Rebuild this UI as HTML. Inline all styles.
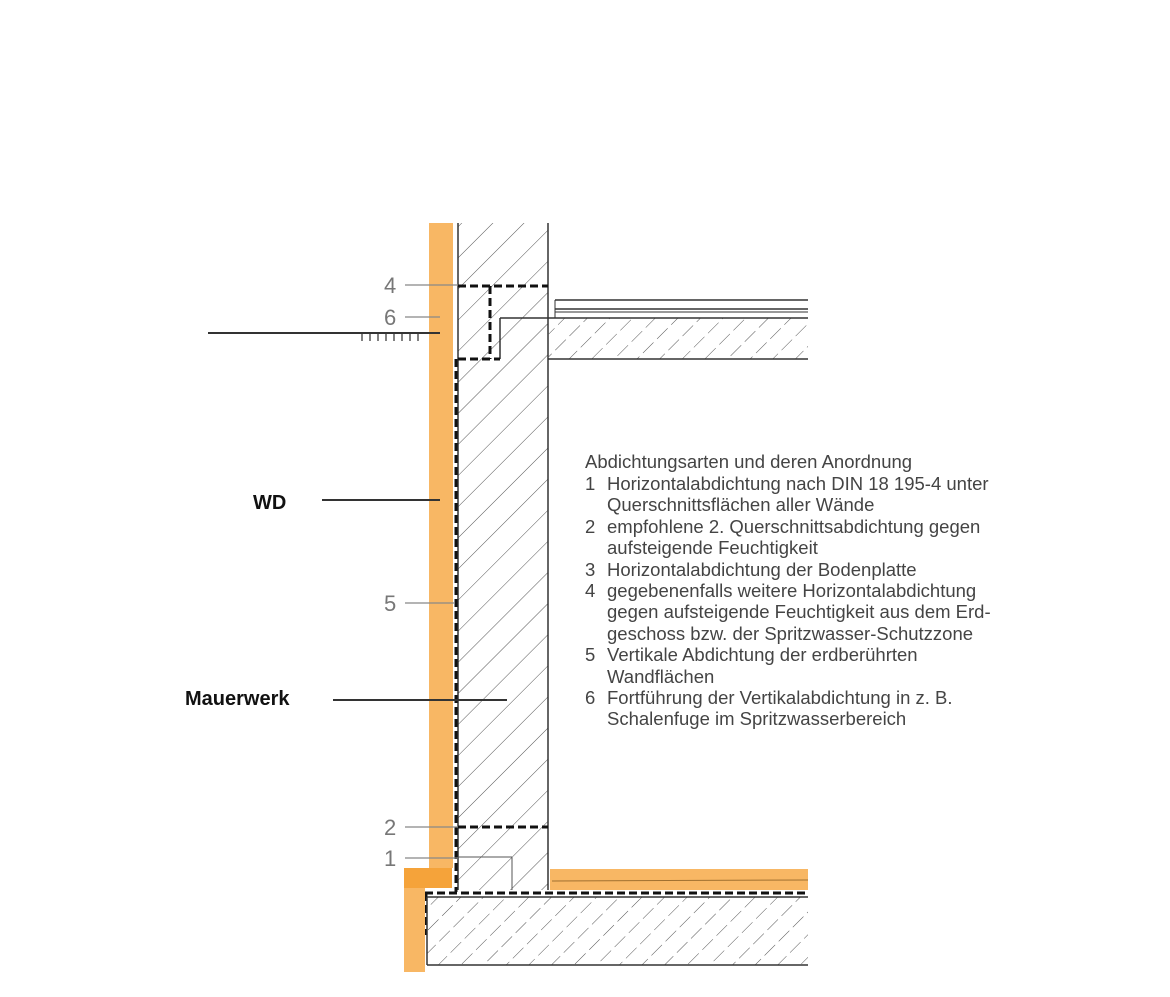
<!DOCTYPE html>
<html><head><meta charset="utf-8"><style>
html,body{margin:0;padding:0;background:#fff;}
svg{display:block;}
.lbl{font-family:"Liberation Sans",sans-serif;font-size:22px;fill:#777;}
.b{font-family:"Liberation Sans",sans-serif;font-size:20px;font-weight:bold;fill:#111;}
.t{font-family:"Liberation Sans",sans-serif;font-size:18.5px;fill:#444;}
</style></head><body>
<svg width="1170" height="997" viewBox="0 0 1170 997" xmlns="http://www.w3.org/2000/svg">
<defs>
<pattern id="h" patternUnits="userSpaceOnUse" width="22" height="22" patternTransform="rotate(45)">
<line x1="0" y1="0" x2="0" y2="22" stroke="#555" stroke-width="1"/>
</pattern>
<pattern id="hc" patternUnits="userSpaceOnUse" width="16" height="20" patternTransform="rotate(45)">
<line x1="0" y1="0" x2="0" y2="15" stroke="#555" stroke-width="1"/>
</pattern>
</defs>
<!-- wall -->
<rect x="458" y="223" width="90" height="667" fill="url(#h)"/>
<line x1="458" y1="223" x2="458" y2="890" stroke="#333" stroke-width="1.5"/>
<line x1="548" y1="223" x2="548" y2="890" stroke="#333" stroke-width="1.5"/>
<!-- ceiling slab -->
<rect x="548" y="318" width="260" height="41" fill="url(#hc)"/>
<line x1="500" y1="318" x2="808" y2="318" stroke="#333" stroke-width="1.5"/>
<line x1="548" y1="359" x2="808" y2="359" stroke="#333" stroke-width="1.5"/>
<line x1="500" y1="318" x2="500" y2="359" stroke="#333" stroke-width="1.5"/>
<line x1="555" y1="300" x2="808" y2="300" stroke="#333" stroke-width="1.5"/>
<line x1="555" y1="309" x2="808" y2="309" stroke="#333" stroke-width="1.5"/>
<line x1="555" y1="312" x2="808" y2="312" stroke="#333" stroke-width="1"/>
<line x1="555" y1="300" x2="555" y2="318" stroke="#333" stroke-width="1"/>
<!-- dashed seals -->
<g stroke="#111" stroke-width="3" stroke-dasharray="8,4" fill="none">
<line x1="458" y1="286" x2="548" y2="286"/>
<line x1="458" y1="359" x2="500" y2="359"/>
<line x1="490" y1="286" x2="490" y2="359"/>
<line x1="456" y1="359" x2="456" y2="892"/>
<line x1="458" y1="827" x2="548" y2="827"/>
<line x1="425" y1="893" x2="808" y2="893"/>
<line x1="426" y1="893" x2="426" y2="935"/>
</g>
<line x1="458" y1="857" x2="512" y2="857" stroke="#555" stroke-width="1"/>
<line x1="512" y1="857" x2="512" y2="890" stroke="#555" stroke-width="1"/>
<!-- base slab -->
<rect x="427" y="897" width="381" height="68" fill="url(#hc)"/>
<line x1="427" y1="897" x2="808" y2="897" stroke="#333" stroke-width="1.5"/>
<line x1="427" y1="965" x2="808" y2="965" stroke="#333" stroke-width="1.5"/>
<line x1="427" y1="897" x2="427" y2="965" stroke="#333" stroke-width="1.5"/>
<!-- orange insulation -->
<rect x="429" y="223" width="24" height="645" fill="#f8b764"/>
<rect x="404" y="868" width="48" height="20" fill="#f5a33a"/>
<rect x="404" y="888" width="21" height="84" fill="#f8b764"/>
<rect x="550" y="869" width="258" height="21" fill="#f8b764"/>
<line x1="552" y1="881" x2="808" y2="880" stroke="#a07030" stroke-width="1"/>
<!-- ground -->
<line x1="208" y1="333" x2="440" y2="333" stroke="#333" stroke-width="2"/>
<g stroke="#555" stroke-width="1.5">
<line x1="362" y1="334" x2="362" y2="341"/><line x1="370" y1="334" x2="370" y2="341"/><line x1="378" y1="334" x2="378" y2="341"/><line x1="386" y1="334" x2="386" y2="341"/><line x1="394" y1="334" x2="394" y2="341"/><line x1="402" y1="334" x2="402" y2="341"/><line x1="410" y1="334" x2="410" y2="341"/><line x1="418" y1="334" x2="418" y2="341"/>
</g>
<!-- number labels -->
<g stroke="#888" stroke-width="1.2">
<line x1="405" y1="285" x2="458" y2="285"/>
<line x1="405" y1="317" x2="440" y2="317"/>
<line x1="405" y1="603" x2="455" y2="603"/>
<line x1="405" y1="827" x2="458" y2="827"/>
<line x1="405" y1="858" x2="458" y2="858"/>
</g>
<text class="lbl" x="384" y="293">4</text>
<text class="lbl" x="384" y="325">6</text>
<text class="lbl" x="384" y="611">5</text>
<text class="lbl" x="384" y="835">2</text>
<text class="lbl" x="384" y="866">1</text>
<!-- callouts -->
<line x1="322" y1="500" x2="440" y2="500" stroke="#333" stroke-width="2"/>
<text class="b" x="253" y="509">WD</text>
<line x1="333" y1="700" x2="507" y2="700" stroke="#333" stroke-width="2"/>
<text class="b" x="185" y="705">Mauerwerk</text>
<!-- legend -->
<text class="t" x="585" y="468">Abdichtungsarten und deren Anordnung</text>
<text class="t" x="585" y="490">1</text><text class="t" x="607" y="490">Horizontalabdichtung nach DIN 18 195-4 unter</text>
<text class="t" x="607" y="511">Querschnittsflächen aller Wände</text>
<text class="t" x="585" y="533">2</text><text class="t" x="607" y="533">empfohlene 2. Querschnittsabdichtung gegen</text>
<text class="t" x="607" y="554">aufsteigende Feuchtigkeit</text>
<text class="t" x="585" y="576">3</text><text class="t" x="607" y="576">Horizontalabdichtung der Bodenplatte</text>
<text class="t" x="585" y="597">4</text><text class="t" x="607" y="597">gegebenenfalls weitere Horizontalabdichtung</text>
<text class="t" x="607" y="618">gegen aufsteigende Feuchtigkeit aus dem Erd-</text>
<text class="t" x="607" y="640">geschoss bzw. der Spritzwasser-Schutzzone</text>
<text class="t" x="585" y="661">5</text><text class="t" x="607" y="661">Vertikale Abdichtung der erdberührten</text>
<text class="t" x="607" y="683">Wandflächen</text>
<text class="t" x="585" y="704">6</text><text class="t" x="607" y="704">Fortführung der Vertikalabdichtung in z. B.</text>
<text class="t" x="607" y="725">Schalenfuge im Spritzwasserbereich</text>
</svg>
</body></html>
